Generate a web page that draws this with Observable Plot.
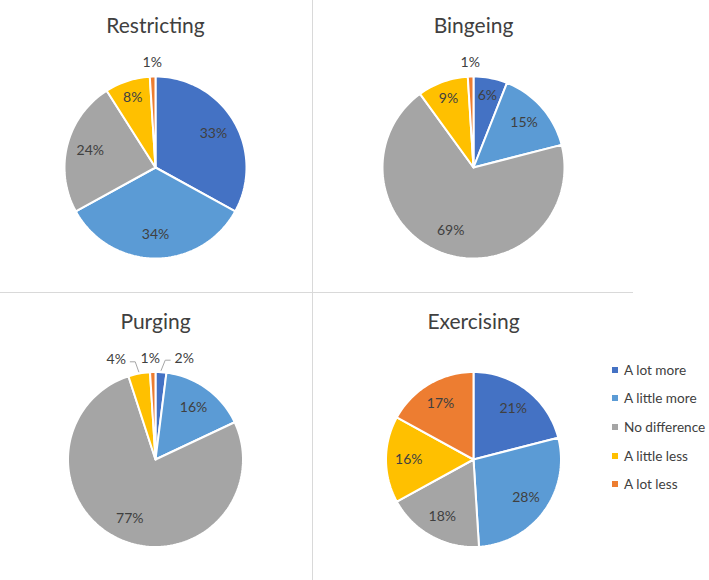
<!DOCTYPE html>
<html>
<head>
<meta charset="utf-8">
<script src="https://cdn.jsdelivr.net/npm/d3@7"></script>
<script src="https://cdn.jsdelivr.net/npm/@observablehq/plot@0.6"></script>
<style>
  body { margin: 0; background: #fff; font-family: Lato, "Open Sans", sans-serif; }
  #root { position: relative; width: 709px; height: 580px; overflow: hidden; background: #fff; }
  .panel { position: absolute; }
  .vline { position: absolute; left: 312px; top: 0; width: 1.4px; height: 580px; background: #d9d9d9; }
  .hline { position: absolute; left: 0; top: 292px; width: 633px; height: 1.4px; background: #d9d9d9; }
  .legend { position: absolute; left: 612px; top: 0; font-size: 13.6px; color: #404040; }
  .legend .item { position: absolute; left: 0; white-space: nowrap; display: flex; align-items: center; transform: translateY(-50%); }
  .legend .sw { width: 6px; height: 6px; margin-right: 6px; }
</style>
</head>
<body>
<div id="root"></div>
<script>
// ---- data ----
const categories = ["A lot more", "A little more", "No difference", "A little less", "A lot less"];
const colors = ["#4472C4", "#5B9BD5", "#A5A5A5", "#FFC000", "#ED7D31"];
const titles = ["Restricting", "Bingeing", "Purging", "Exercising"];
const restricting = [33, 34, 24, 8, 1];
const bingeing = [6, 15, 69, 9, 1];
const purging = [2, 16, 77, 4, 1];
const exercising = [21, 28, 18, 16, 17];

// ---- layout ----
const panels = [
  {title: titles[0], values: restricting, left: 0,   top: 0,   w: 312, h: 292, cx: 155, cy: 167, r: 91,   ty: 26},
  {title: titles[1], values: bingeing,    left: 313, top: 0,   w: 320, h: 292, cx: 160, cy: 167, r: 91,   ty: 26},
  {title: titles[2], values: purging,     left: 0,   top: 293, w: 312, h: 287, cx: 155, cy: 166, r: 87.5, ty: 29},
  {title: titles[3], values: exercising,  left: 313, top: 293, w: 296, h: 287, cx: 160, cy: 166, r: 87.5, ty: 29}
];

const root = document.getElementById("root");

function makePanel(p) {
  const rows = p.values.map((v, i) => ({cat: categories[i], value: v}));
  const arcs = d3.pie().sort(null).value(d => d.value)(rows);

  // slice polygons in unit-circle space (0 = top, clockwise)
  const pts = [];
  arcs.forEach(a => {
    const cat = a.data.cat;
    pts.push({cat, x: 0, y: 0});
    const n = Math.max(2, Math.ceil((a.endAngle - a.startAngle) / (Math.PI / 90)));
    for (let k = 0; k <= n; k++) {
      const t = a.startAngle + (a.endAngle - a.startAngle) * k / n;
      pts.push({cat, x: Math.sin(t), y: Math.cos(t)});
    }
  });

  // label positions
  const labels = arcs.map(a => {
    const m = (a.startAngle + a.endAngle) / 2;
    const v = a.data.value;
    const outside = v < 5;
    const d = outside ? 1 + 14 / p.r : (v < 10 ? 0.81 : 0.74);
    return {text: v + "%", m, outside, x0: Math.sin(m) * d, x: Math.sin(m) * d, y: Math.cos(m) * d};
  });
  // spread crowded outside labels horizontally
  const outs = labels.filter(l => l.outside).sort((a, b) => a.x - b.x);
  const gap = 34 / p.r;
  for (let it = 0; it < 200; it++) {
    for (let i = 0; i < outs.length - 1; i++) {
      const a = outs[i], b = outs[i + 1];
      const g = b.x - a.x;
      if (g < gap) { const s = (gap - g) / 2; a.x -= s; b.x += s; }
    }
  }
  // leader lines for displaced labels
  const leaders = [];
  labels.forEach((l, i) => {
    if (l.outside && Math.abs(l.x - l.x0) * p.r > 8) {
      const hw = 12 / p.r;
      const sx = Math.sin(l.m) * 1.02, sy = Math.cos(l.m) * 1.02;
      const side = l.x > sx ? -1 : 1;
      const yy = l.y - 2 / p.r;
      leaders.push({id: i, x: sx, y: sy});
      leaders.push({id: i, x: l.x + side * (hw + 7 / p.r), y: yy});
      leaders.push({id: i, x: l.x + side * (hw + 2 / p.r), y: yy});
    }
  });

  const chart = Plot.plot({
    width: p.w,
    height: p.h,
    margin: 0,
    x: {domain: [-p.cx / p.r, (p.w - p.cx) / p.r], axis: null},
    y: {domain: [-(p.h - p.cy) / p.r, p.cy / p.r], axis: null},
    color: {domain: categories, range: colors},
    style: {fontFamily: "Lato, 'Open Sans', sans-serif", background: "transparent", overflow: "visible"},
    marks: [
      Plot.line(pts, {x: "x", y: "y", z: "cat", fill: "cat", stroke: "white", strokeWidth: 2, curve: "linear-closed"}),
      Plot.line(leaders, {x: "x", y: "y", z: "id", stroke: "#a6a6a6", strokeWidth: 1, curve: "linear"}),
      Plot.text(labels, {x: "x", y: "y", text: "text", fontSize: 14, fill: "#404040"}),
      Plot.text([p.title], {x: () => 0, frameAnchor: "top", lineAnchor: "middle", dy: p.ty, text: d => d, fontSize: 21, fill: "#404040"})
    ]
  });
  const div = document.createElement("div");
  div.className = "panel";
  div.style.left = p.left + "px";
  div.style.top = p.top + "px";
  div.appendChild(chart);
  root.appendChild(div);
}

panels.forEach(makePanel);

// dividers
const v = document.createElement("div"); v.className = "vline"; root.appendChild(v);
const h = document.createElement("div"); h.className = "hline"; root.appendChild(h);

// legend
const legendRows = [370, 398, 427, 456, 484];
const lg = document.createElement("div"); lg.className = "legend";
categories.forEach((c, i) => {
  const it = document.createElement("div"); it.className = "item";
  it.style.top = legendRows[i] + "px";
  const sw = document.createElement("span"); sw.className = "sw"; sw.style.background = colors[i];
  const tx = document.createElement("span"); tx.textContent = c;
  it.appendChild(sw); it.appendChild(tx); lg.appendChild(it);
});
root.appendChild(lg);
</script>
</body>
</html>
